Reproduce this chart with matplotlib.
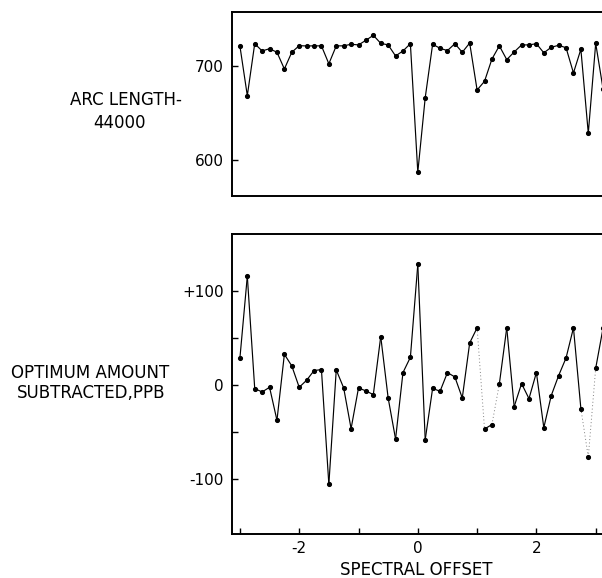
import numpy as np
import matplotlib
matplotlib.use("Agg")
import matplotlib.pyplot as plt

# Spectral offset grid (step 1/8)
offset = np.arange(-3.0, 3.126, 0.125)

# Arc length minus 44000
arc_length = [
    720.9, 668.2, 723.3, 715.6, 718.0, 714.2, 696.5, 714.2, 721.2, 720.9,
    721.0, 721.0, 702.0, 721.0, 721.0, 722.7, 722.0, 726.9, 732.2, 723.7,
    722.0, 710.3, 715.6, 723.3, 587.0, 666.0, 722.7, 718.4, 716.0, 723.3,
    714.2, 724.0, 674.2, 683.4, 707.0, 721.0, 706.4, 714.5, 722.0, 722.0,
    723.3, 713.6, 719.5, 721.6, 719.0, 692.3, 717.4, 628.3, 723.7, 675.0,
]

# Optimum amount subtracted, ppb
amount = [
    28.5, 116.0, -3.9, -7.5, -2.5, -37.7, 32.7, 20.3, -2.5, 5.0,
    15.3, 16.4, -106.0, 16.0, -3.2, -46.6, -3.2, -6.4, -10.3, 51.6,
    -13.9, -57.7, 13.2, 29.5, 128.5, -58.4, -3.6, -6.8, 13.2, 8.5,
    -13.9, 44.8, 60.9, -47.0, -42.3, 1.0, 60.9, -23.1, 1.4, -14.6,
    13.2, -45.6, -11.4, 10.0, 28.8, 60.9, -25.3, -76.9, 17.8, 61.0,
]

# segments (start index) traced faintly in the lower trace
faint_segments = {32, 34, 46, 47}

x_ticks = [-3, -2, -1, 0, 1, 2, 3]
x_ticklabels = ["", "-2", "", "0", "", "2", ""]
top_yticks = [600, 700]
top_yticklabels = ["600", "700"]
bot_yticks = [-100, -50, 0, 50, 100]
bot_yticklabels = ["-100", "", "0", "", "+100"]

W, H = 602, 578
fig = plt.figure(figsize=(W / 100, H / 100), dpi=100)
fig.patch.set_facecolor("white")


def rect(left, top, right, bottom):
    return [left / W, 1 - bottom / H, (right - left) / W, (bottom - top) / H]


x0_px, ppu = 417.8, 59.3
ax_left_px, ax_right_px = 232, 620
xlim = ((ax_left_px - x0_px) / ppu, (ax_right_px - x0_px) / ppu)

ax1 = fig.add_axes(rect(ax_left_px, 12, ax_right_px, 196))
ax2 = fig.add_axes(rect(ax_left_px, 234, ax_right_px, 534))

line_kw = dict(color="black", lw=0.85, marker="o", ms=2.7, mfc="black", mec="black")

ax1.plot(offset, arc_length, **line_kw)

for i in range(len(offset) - 1):
    if i in faint_segments:
        ax2.plot(offset[i:i + 2], amount[i:i + 2], color="0.5", lw=0.7,
                 ls=(0, (1, 2.5)))
    else:
        ax2.plot(offset[i:i + 2], amount[i:i + 2], color="black", lw=0.85)
ax2.plot(offset, amount, ls="none", marker="o", ms=2.7, color="black")

ax1.set_xlim(*xlim)
ax2.set_xlim(*xlim)
ax1.set_ylim(561.8, 756.9)
ax2.set_ylim(-159, 161)

for ax in (ax1, ax2):
    for s in ax.spines.values():
        s.set_linewidth(1.4)
        s.set_color("black")
    ax.tick_params(direction="in", length=4, width=1.0, labelsize=11, pad=6)

ax1.set_xticks([])
ax1.set_yticks(top_yticks)
ax1.set_yticklabels(top_yticklabels)

ax2.set_xticks(x_ticks)
ax2.set_xticklabels(x_ticklabels)
ax2.set_yticks(bot_yticks)
ax2.set_yticklabels(bot_yticklabels)
ax2.tick_params(axis="x", pad=5)

fs = 12
fig.text(126 / W, 1 - 100 / H, "ARC LENGTH-", ha="center", va="center", fontsize=fs)
fig.text(119 / W, 1 - 123 / H, "44000", ha="center", va="center", fontsize=fs)
fig.text(90 / W, 1 - 373 / H, "OPTIMUM AMOUNT", ha="center", va="center", fontsize=fs)
fig.text(91 / W, 1 - 393 / H, "SUBTRACTED,PPB", ha="center", va="center", fontsize=fs)
fig.text(416 / W, 1 - 570 / H, "SPECTRAL OFFSET", ha="center", va="center", fontsize=fs)

fig.savefig("out.png", dpi=100)
